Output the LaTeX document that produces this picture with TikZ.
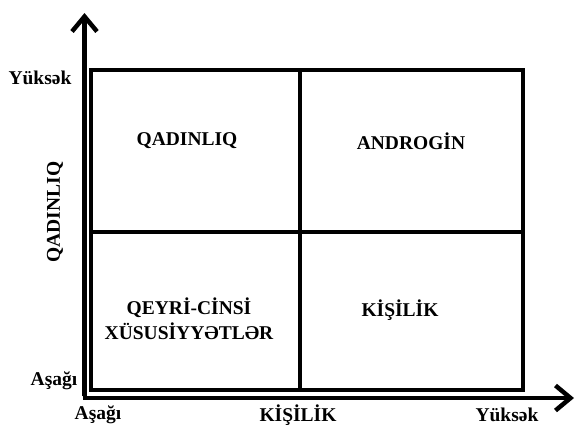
\documentclass[tikz,border=0pt]{standalone}
\usepackage{fontspec}
\setmainfont{Liberation Serif}
\usetikzlibrary{arrows.meta}
\tikzset{
  lbl/.style={font=\fontsize{19.5}{23}\selectfont\bfseries, inner sep=0pt, align=center},
  frame/.style={line width=4.5pt},
  axis/.style={line width=4.5pt, -{Straight Barb[length=15pt,width=25pt]}}
}
\begin{document}
\begin{tikzpicture}[x=1pt,y=-1pt]
\useasboundingbox (0,0) rectangle (576,426);
% frame corners
\coordinate (tl) at (91,70);
\coordinate (tr) at (523,70);
\coordinate (bl) at (91,390);
\coordinate (br) at (523,390);
\coordinate (tm) at (300,70);
\coordinate (bm) at (300,390);
\coordinate (ml) at (91,232);
\coordinate (mr) at (523,232);
\draw[frame] (tl) rectangle (br);
\draw[frame] (tm) -- (bm);
\draw[frame] (ml) -- (mr);
% axes
\coordinate (o) at (84.5,398);
\coordinate (ytip) at (84.5,13);
\coordinate (xtip) at (574,398);
\draw[axis] ([yshift=2pt]o) -- (ytip);
\draw[axis] ([xshift=-2pt]o) -- (xtip);
% labels
\node[lbl] (yhi) at (40,78) {Yüksək};
\node[lbl] (ylo) at (54,381) {Aşağı};
\node[lbl] (xlo) at (98,415) {Aşağı};
\node[lbl] (xname) at (298,415) {KİŞİLİK};
\node[lbl] (xhi) at (507,415) {Yüksək};
\node[lbl, rotate=90] (yname) at (55,212) {QADINLIQ};
\node[lbl] (q1) at (187,141) {QADINLIQ};
\node[lbl] (q2) at (411,141) {ANDROGİN};
\node[lbl] (q3) at (189,319) {QEYRİ-CİNSİ\\[2pt]XÜSUSİYYƏTLƏR};
\node[lbl] (q4) at (400,310) {KİŞİLİK};
\end{tikzpicture}
\end{document}
